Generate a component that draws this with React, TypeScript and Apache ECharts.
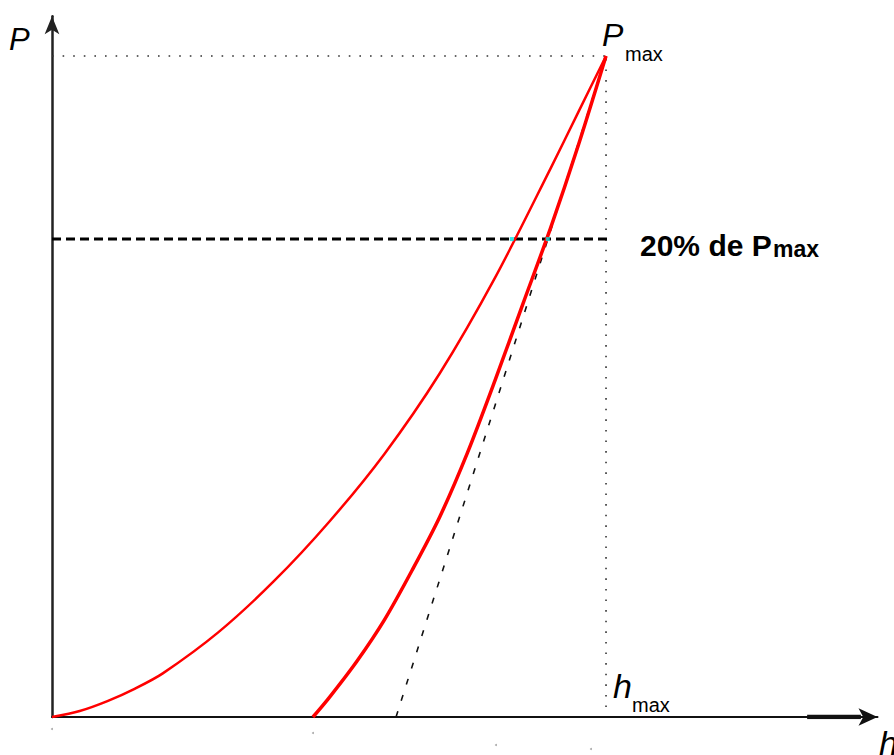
import React, { useEffect, useRef } from "react";
import * as echarts from "echarts";

// Loading curve (h, P), normalised so hmax = 1 and Pmax = 1
const loadingH = [0, 0.05, 0.1, 0.15, 0.2, 0.3, 0.4, 0.5, 0.6, 0.7, 0.8, 0.9, 0.95, 1.0];
const loadingP = [0, 0.009, 0.024, 0.043, 0.066, 0.128, 0.205, 0.295, 0.398, 0.52, 0.665, 0.83, 0.915, 1.0];
// Unloading curve
const unloadingH = [0.471, 0.5, 0.55, 0.6, 0.65, 0.7, 0.75, 0.8, 0.85, 0.9, 0.95, 1.0];
const unloadingP = [0, 0.029, 0.084, 0.147, 0.222, 0.303, 0.4, 0.51, 0.625, 0.74, 0.865, 1.0];
// Tangent to unloading at Pmax
const tangentH = [0.621, 1.0];
const tangentP = [0, 1.0];
const hMax = 1.0;
const pMax = 1.0;
const refLevel = 0.723;
const refLineEndH = 1.01;
const intersectH = [0.83, 0.895];
const axisMaxH = 1.49;
const axisMaxP = 1.06;
const thickAxisH = [1.363, 1.46];

const font = "'Liberation Sans', Arial, sans-serif";

export default function App() {
  const ref = useRef<HTMLDivElement>(null);
  useEffect(() => {
    const chart = echarts.init(ref.current!, null, { renderer: "svg" });
    const zip = (a: number[], b: number[]) => a.map((v, i) => [v, b[i]]);
    const lineBase = { type: "line", symbol: "none", silent: true, animation: false };
    chart.setOption({
      animation: false,
      backgroundColor: "#fff",
      grid: { left: 52, right: 16.5, top: 16.3, bottom: 38 },
      xAxis: {
        type: "value", min: 0, max: axisMaxH,
        axisLine: { show: true, onZero: true, symbol: ["none", "arrow"], symbolSize: [13, 19], lineStyle: { color: "#111", width: 2 } },
        axisTick: { show: false }, axisLabel: { show: false }, splitLine: { show: false },
      },
      yAxis: {
        type: "value", min: 0, max: axisMaxP,
        axisLine: { show: true, onZero: true, symbol: ["none", "arrow"], symbolSize: [11, 18], lineStyle: { color: "#222", width: 2.5 } },
        axisTick: { show: false }, axisLabel: { show: false }, splitLine: { show: false },
      },
      series: [
        { ...lineBase, z: 1, data: [[0, pMax], [hMax, pMax]], lineStyle: { color: "#333", width: 1.6, type: [1.6, 9] } },
        { ...lineBase, z: 1, data: [[hMax, 0.015], [hMax, pMax]], lineStyle: { color: "#333", width: 1.6, type: [1.6, 9] } },
        { ...lineBase, z: 2, data: zip(tangentH, tangentP), lineStyle: { color: "#111", width: 1.6, type: [6, 11] } },
        { ...lineBase, z: 2, data: [[0, refLevel], [refLineEndH, refLevel]], lineStyle: { color: "#000", width: 3, type: [9, 5] } },
        { ...lineBase, z: 3, smooth: 0.3, data: zip(loadingH, loadingP), lineStyle: { color: "#ff0000", width: 2.5 } },
        { ...lineBase, z: 3, smooth: 0.3, data: zip(unloadingH, unloadingP), lineStyle: { color: "#ff0000", width: 3.5 } },
        { type: "scatter", z: 4, silent: true, symbol: "rect", symbolSize: 4, itemStyle: { color: "#00e0e0" }, data: intersectH.map((h) => [h, refLevel]) },
        { ...lineBase, z: 2, data: thickAxisH.map((h) => [h, 0]), lineStyle: { color: "#111", width: 4.5 } },
      ],
      graphic: [
        { type: "text", x: 9, y: 39, style: { text: "P", font: `italic 31px ${font}`, fill: "#000", textVerticalAlign: "middle" } },
        { type: "text", x: 602, y: 35, style: { text: "P", font: `italic 32px ${font}`, fill: "#000", textVerticalAlign: "middle" } },
        { type: "text", x: 625, y: 54, style: { text: "max", font: `20px ${font}`, fill: "#000", textVerticalAlign: "middle" } },
        { type: "text", x: 640, y: 245, style: { text: "20% de P", font: `bold 30px ${font}`, fill: "#000", textVerticalAlign: "middle" } },
        { type: "text", x: 773, y: 249, style: { text: "max", font: `bold 23px ${font}`, fill: "#000", textVerticalAlign: "middle" } },
        { type: "text", x: 613, y: 686, style: { text: "h", font: `italic 34px ${font}`, fill: "#000", textVerticalAlign: "middle" } },
        { type: "text", x: 632, y: 705, style: { text: "max", font: `20px ${font}`, fill: "#000", textVerticalAlign: "middle" } },
        { type: "text", x: 879, y: 743, style: { text: "h", font: `italic 34px ${font}`, fill: "#000", textVerticalAlign: "middle" } },
        { type: "circle", shape: { cx: 52, cy: 729, r: 1 }, style: { fill: "#aaa" } },
        { type: "circle", shape: { cx: 313, cy: 733, r: 1 }, style: { fill: "#aaa" } },
        { type: "circle", shape: { cx: 496, cy: 745, r: 1 }, style: { fill: "#aaa" } },
        { type: "circle", shape: { cx: 591, cy: 749, r: 1 }, style: { fill: "#aaa" } },
      ],
    });
    return () => chart.dispose();
  }, []);
  return <div ref={ref} style={{ position: "fixed", left: 0, top: 0, width: 894, height: 755, background: "#fff" }} />;
}
